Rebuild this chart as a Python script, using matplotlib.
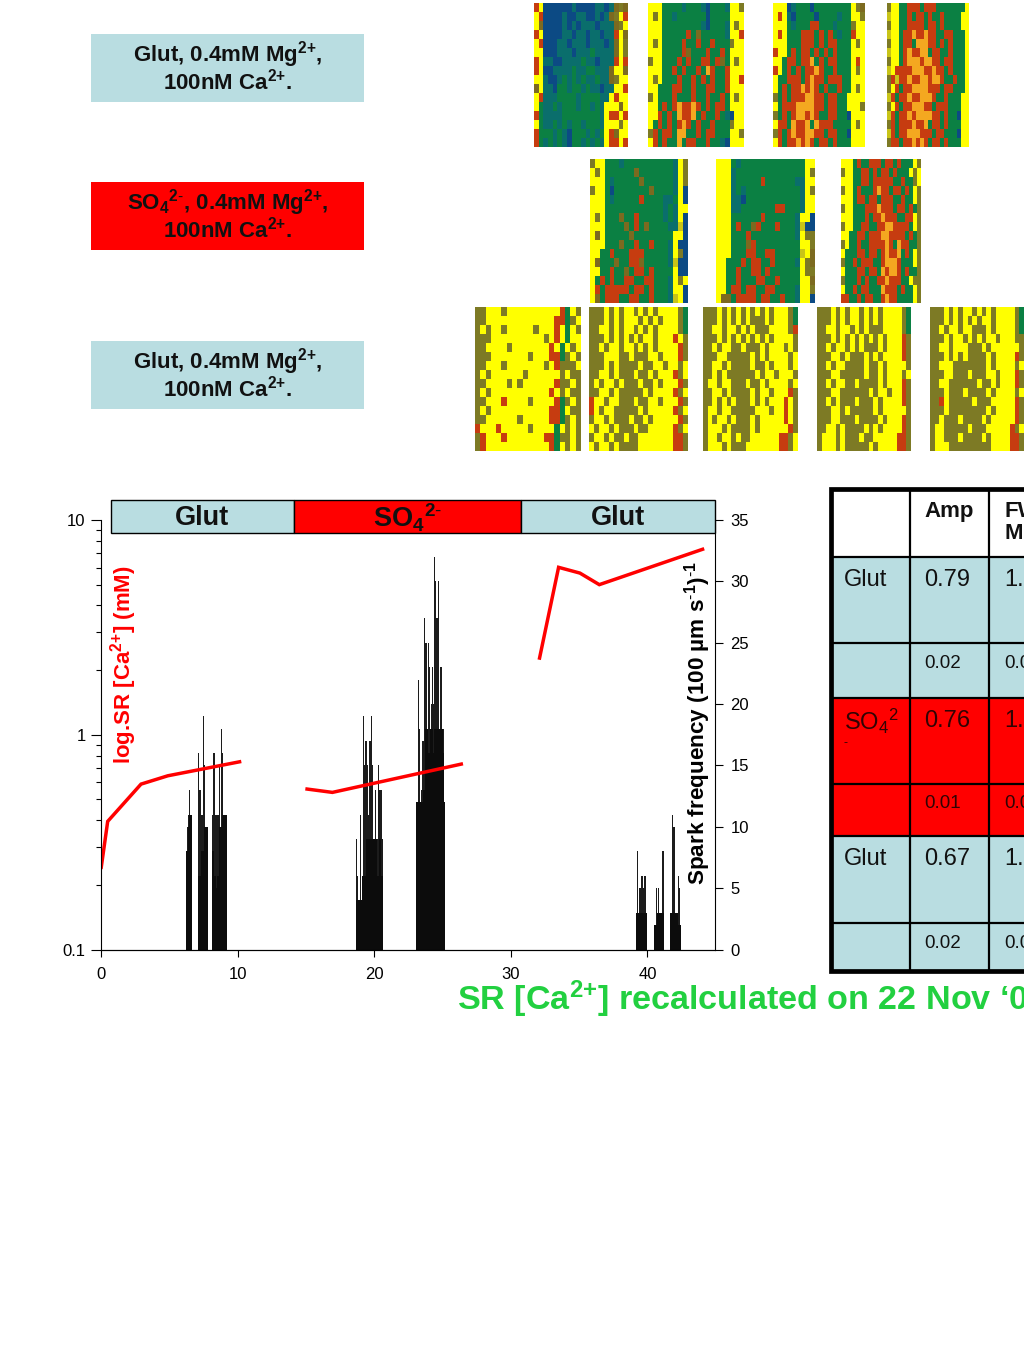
import matplotlib
matplotlib.use('Agg')
import matplotlib.pyplot as plt
from matplotlib.colors import to_rgb
from matplotlib.patches import Rectangle
from matplotlib.ticker import FixedLocator, FixedFormatter, NullFormatter

plt.rcParams['font.family'] = ['Liberation Sans', 'DejaVu Sans']
plt.rcParams['mathtext.fontset'] = 'custom'
plt.rcParams['mathtext.rm'] = 'Liberation Sans'
plt.rcParams['mathtext.bf'] = 'Liberation Sans:bold'
plt.rcParams['mathtext.default'] = 'bf'

BLUE = '#b9dde1'
RED = '#ff0000'

# spark frequency bars, the peaks
spark_t = [6.3, 6.36, 6.42, 6.5, 6.56, 6.62,
           7.15, 7.25, 7.32, 7.42, 7.53, 7.6, 7.7,
           8.2, 8.27, 8.36, 8.43, 8.5, 8.6, 8.7, 8.8, 8.92, 9.05, 9.12,
           18.68, 18.8, 18.9, 19.0, 19.08, 19.2, 19.3, 19.4, 19.5, 19.6, 19.7, 19.8, 19.9, 20.0, 20.1, 20.2, 20.3, 20.4, 20.5, 20.58,
           23.13, 23.25, 23.32, 23.45, 23.57, 23.7, 23.8, 23.95, 24.05, 24.2, 24.28, 24.35, 24.43, 24.5, 24.6, 24.73, 24.85, 24.95, 25.05, 25.12,
           39.2, 39.3, 39.4, 39.5, 39.6, 39.7, 39.83, 39.9,
           40.55, 40.65, 40.8, 40.9, 41.0, 41.15,
           41.7, 41.85, 41.95, 42.05, 42.15, 42.25, 42.35]
spark_n = [8, 10, 11, 13, 11, 11,
           16, 13, 11, 11, 19, 15, 10,
           11, 16, 11, 5, 11, 11, 15, 18, 16, 11, 11,
           9, 6, 4, 11, 4, 19, 15, 17, 15, 11, 17, 19, 15, 9, 13, 9, 15, 13, 13, 9,
           12, 22, 18, 13, 17, 27, 25, 25, 23, 20, 23, 20, 32, 30, 27, 30, 23, 23, 18, 12,
           3, 8, 5, 5, 6, 5, 6, 3,
           2, 5, 5, 3, 3, 8,
           3, 11, 10, 3, 3, 6, 5]
# the solid lower part of each cluster
base_t = [6.28, 6.4, 6.52, 6.62,
          7.16, 7.28, 7.4, 7.52, 7.64, 7.74,
          8.22, 8.34, 8.46, 8.58, 8.7, 8.82, 8.94, 9.06, 9.16,
          18.72, 18.84, 18.96, 19.08, 19.2, 19.32, 19.44, 19.56, 19.68, 19.8, 19.92, 20.04, 20.16, 20.28, 20.4, 20.52, 20.6,
          23.16, 23.28, 23.4, 23.52, 23.64, 23.76, 23.88, 24.0, 24.12, 24.24, 24.36, 24.48, 24.6, 24.72, 24.84, 24.96, 25.08, 25.14,
          39.22, 39.34, 39.46, 39.58, 39.7, 39.82, 39.9,
          40.56, 40.68, 40.8, 40.92, 41.04, 41.16,
          41.72, 41.84, 41.96, 42.08, 42.2, 42.32, 42.38]
base_n = [8, 10, 11, 11,
          6, 6, 8, 8, 10, 10,
          8, 6, 5, 6, 10, 10, 11, 11, 11,
          4, 4, 4, 4, 6, 6, 9, 9, 9, 9, 9, 9, 9, 6, 9, 6, 6,
          12, 12, 12, 12, 13, 18, 18, 16, 18, 18, 16, 18, 18, 18, 18, 18, 16, 12,
          3, 3, 3, 3, 3, 3, 3,
          2, 2, 3, 3, 3, 3,
          3, 3, 3, 3, 3, 2, 2]

# SR [Ca2+], three runs
ca_t1 = [0, 0.49, 2.93, 4.89, 10.27]
ca_v1 = [0.237, 0.395, 0.589, 0.644, 0.751]
ca_t2 = [14.96, 16.94, 26.5]
ca_v2 = [0.56, 0.539, 0.733]
ca_t3 = [32.08, 33.5, 35.06, 36.48, 44.16]
ca_v3 = [2.235, 6.02, 5.66, 5.0, 7.35]

# table
table_names = ['Glut', '', r'$\mathrm{SO_4{}^2}$', '', 'Glut', '']
table_amp = ['0.79', '0.02', '0.76', '0.01', '0.67', '0.02']
table_fwhm = ['1.0', '0.0', '1.3', '0.0', '1.5', '0.0']
table_fill = [BLUE, BLUE, RED, RED, BLUE, BLUE]

palette = {'y': '#ffff00', 'o': '#7d7a25', 'g': '#0b8043', 't': '#0a6e6c', 'b': '#0c4a84',
           'r': '#c63c10', 'd': '#7c6a20', 'a': '#f4a820', 'm': '#c8c418'}
panel_row1 = [
    ["rybbbbbbtbbbbttbtdod", "yrbbbbtbbttbbtbtdoyr", "ydbbbbtbtbtttbtttdoy", "rybbbbttbttbttbttryd",
     "yrbbbttbtttbtttbtdyo", "yybbbtttbtttgttttdyo", "ryttbbttttgttbtttryr", "rybbttttgttggtttdyyd",
     "yytbbtgtgtgttgttdoyy", "dyttbggtggtgttbttyyr", "yrtttggggtggggttyryy", "ygttgtgggtggtgtyyydy",
     "rgttttggggggggtyrryr", "ygttgtgtggtgggtyyyoy", "rgggtgtbgggtgtgyrdyy", "rgtgtgtbggtgtgtyrryr"],
    ["yyyggggtgggtbgggtyyo", "yoyggtggggggbggggyyy", "yyyggggggggtbgggtyoy", "yyygggggrgdgggggtyyr",
     "yoyggggrggrggrgggoyy", "yyyggggrdgggrggrgyyy", "oyygggrgrggrrgrdgyoy", "yyyggrgrggrgarggryyy",
     "yoygggrggrgrgrggryyr", "yygggrrggrggrrggryyy", "oygggrgggrggrggrgyoy", "yygrgrarrargrgrrgyyy",
     "yyrgrgarragrggrgtbyy", "ygrgrgrargrggrgggoyy", "orgrrgaaggrgrrgggyyo", "yrgrggagrrggrggtbyyy"],
    ["yyybtgggbggggggggyod", "yrytbggggbggggtggyyo", "yyygtgggrrgggtgggoyy", "yrygggrrrgrgrgtggryy",
     "yyygggrrrgrgrrgggyoy", "ryygrgrrgrgrgrgggyyy", "yygrrgrragrgrrgggyry", "rygrgrgrrarggrgggyoy",
     "yggrrrgrarrgrrrggyyy", "ygrgrrarargrggrggyoy", "ogrgrrraarrgrrggyyyy", "ygrrraaaarrgrrggyyyo",
     "ogrgraararggrrggbyyy", "yrrgarragarrrggggyoy", "orgrarraarrgrrggbyyy", "yrgrrarargrrgrgggyyy"],
    ["oyyggrrrgrrrgggggggy", "myyggrgrrgrggrggggyy", "oyyggrrrrgrrgrggggyy", "myygrrarrarrggrrgggy",
     "oyygrrgaaarrgrgrgggy", "myygrarraagrrggrgggy", "oyygraaaraarrgrrgggy", "myrrrraaarrarrgrgggy",
     "ormrrarraaraarggrggy", "oyrgrraaaarrrgrrgggy", "mrgrrarraaarggrgggyy", "oyrgrraaarrgrrrgggyy",
     "mrgrraraaaarrgrggbyy", "orgrrrarragrrgrgggyy", "mrgrraaarrrgrrgggbyy", "orrgrrarargrrgrgggyy"],
]
panel_row2 = [
    ["oyygggtggggggggggtyo", "yoyggggggdgggggggtyo", "yyygtgggggdggggggtyo", "oyygbgggggggdggggtyb",
     "yyygtgggggrggggttgyb", "yyyggggggggggggtgtyy", "yoygggdggrgggggtgtyb", "yyyggggdgrgdggggttmb",
     "ydygggggdggggggggyyb", "yyygggdggrggrgggtybb", "yyggrgggrrrgggggtyob", "ydgggdggrrdgggggtmbb",
     "yyggrggdgrrgrggggybb", "ygrgrggrrggrrgggtyoy", "yrgrrrrrgrrgrgggtyyb", "ydgrrrggrrggrgggtmyb"],
    ["yyygtgggggggggggggyy", "yyytggggggggggggggyo", "yyytgggggrggggggttyy", "yyytgtgggggggggggtyo",
     "yyyttbgggggggggggtyy", "yyyttgggggggrrgggtyy", "yyyggggggrggggggtyyb", "yyygrggdrgggrgggtmbb",
     "yyygggrgggggggggtyoo", "yyygggdrgggggggggyyo", "yyygggrrggrrgggggmyd", "yygggrgrrggrggggtyod",
     "yyggrggrrgrggggggyoo", "yyggrgggrrggrggggyyd", "yygrrgrrggrrggggtyyo", "yddgrrrrgrrggrggtyyb"],
    ["yyygrggrrrgrrgrgggyo", "oyyggrrgrgrrgrgggyoy", "yyyggrrgrrrrrggrggoy", "oyygrgggrarrgrrgrgyo",
     "yyygrrgrrgrrrggrggyo", "oyygggrrrarrrgrrgrgo", "yyygggrgrrarrrggrryo", "oyyggrrggrraarrrrgyo",
     "yyggrrgrrraarrrrgrgo", "oyggrggrrrrargarrggo", "ygggrrgrrgrarragrgyo", "oggrgrrrggraaargggyo",
     "ygggrrgrrgaraargrggo", "ogggrgrggrrarrrggyoo", "yggrgrrgggarrrgrggyo", "rrggrgrrggrarrggggyo"],
]
panel_row3 = [
    ["ooyyyoyyyyyyyyyyrgyo", "ooyyyyyyyyyyyyyrrgoy", "oyoyyoyyyyyoyyyrygyo", "oooyyyyyyyyyyoyrygyy",
     "ooyyyyoyyyyyyyrygyoy", "oooyyyyyyyoyyyrrgoyo", "ooyyyoyyyyyyyoyroooy", "oyoyyyyyyoyyyyyyoyoo",
     "ooyyyyoyoyyyyyyrooyo", "oyoyyyyyyyyyyyryoyoo", "ooyyyryyyyoyyyyrgoyo", "oyoyyyyyyyyyyyrrgyoo",
     "ooyyyyyyoyyyyyrrgoyo", "ryyyryyyyyoyyyygyoyo", "oryyyryyyyyyyrrgooyo", "oryyyyyyyyyyyyrgyoyo"],
    ["oooyoyoyyoyoyoyyyyog", "oooyoyoyyyoyoyoyyyog", "ooyyoyoyyoyoyoyyyyog", "oooyoyoyoyoyyoyyyryo",
     "ooyoyyoyyoyoyoyyyyro", "oooyyyooyoooyyoyyyro", "oooyoyooooyooyyoyyoy", "ooyyoyoooyooyoyyyroy",
     "oyoyyoyoooyooyoyyyro", "ooyyoyoooooyoyyyyroy", "ryyoyyoooyooyyoyyyro", "ryoyyoooooyoyyyyyroy",
     "oyyoyoooyooyoyyyyyro", "yoyyoyoooyooyyyyyroy", "oyyoyooyooyyyyyyyrro", "yoyyoyooooyyyyyyyrro"],
    ["oooyoyoyoyoyoyoyyyog", "oooyoyoyoyoooyoyyyog", "ooyyoyyoyoyoooyyyyor", "oooyoyoyoyoyoyoyyyyo",
     "ooyoyyooyoooyoyyyoyo", "oooyyoooooyoyoyyyyoy", "ooyyoyooooyooyoyyyoy", "ooyoyooooooyoyyoyyyo",
     "oyyoyyoooyooyoyyyyoy", "ooyyoyooooyoyyoyyyro", "ooyoyoyoooyoyoyyyryo", "oyyoyyoooooyyyoyyryo",
     "oyoyyoyoooyoyyyyyryo", "oyyyoyooooyoyyyyyyro", "oyyoyyoyooyyyyyyrroy", "oyyyoyoooyyyyyyyrroy"],
    ["oooyoyoyyoyoyoyyyyog", "oooyoyoyyoyoyoyyyyog", "ooyyoyyoyoyoooyyyyog", "oooyoyoyoyoyoyoyyyro",
     "ooyoyyoyoyoooyoyyyro", "oooyyoyoooyoyoyyyyro", "ooyoyyooooyooyoyyyyo", "oooyyoooooyooyoyyyoy",
     "ooyoyyooyooooyoyyyro", "oooyyooooooyoyyoyyro", "ooyoyoooyoooyoyyyyro", "oooyyoyoooooyoyyyyyo",
     "oooyyoooyooooyoyyyro", "ooyyoyooooyoyoyyyyro", "oyyyoyoooyooyyyyyrro", "oyyyoyoooooyoyyyyrro"],
    ["oooyoyoyyoyoyoyyyyog", "oooyoyoyoyoyyoyyyyog", "ooyoyyoyyoooyoyyyyog", "oooyoyyoyoyoyyoyyyoo",
     "ooyyoyyyoooyoyyyyyyo", "oooyoyoyooooyoyyyyro", "ooyyyoooooooyoyyyyoy", "oooyyoooyoooyyoyyyro",
     "ooyyooooooyooyoyyyro", "oooyoooyooooyoyyyyoy", "ooryoooooyoooyyyyyro", "oooyooooooooyoyyyyro",
     "ooyoooyooooyoyyyyyro", "oyyoooooyoooyyyyyroy", "oyyoooyooooyoyyyyrro", "oyyyoooooooooyyyyrro"],
]
row1_x = [(534, 628), (648, 744), (773, 865), (887, 969)]
row2_x = [(590, 688), (716, 815), (841, 921)]
row3_x = [(475, 581), (589, 688), (703, 798), (817, 911), (930, 1024)]

fig = plt.figure(figsize=(10.24, 13.65), dpi=100, facecolor='white')
W, H = 1024, 1365

# chart
ax = fig.add_axes([101 / W, 1 - 949.5 / H, (715 - 101) / W, (949.5 - 520) / H])
ax.set_yscale('log')
ax.set_xlim(0, 44.95)
ax.set_ylim(0.1, 10)
ax.patch.set_visible(False)
for t, v in [(ca_t1, ca_v1), (ca_t2, ca_v2), (ca_t3, ca_v3)]:
    ax.plot(t, v, color=RED, lw=2.5, solid_capstyle='butt', solid_joinstyle='miter')
ax.set_xticks([0, 10, 20, 30, 40])
ax.yaxis.set_major_locator(FixedLocator([0.1, 1, 10]))
ax.yaxis.set_major_formatter(FixedFormatter(['0.1', '1', '10']))
ax.yaxis.set_minor_formatter(NullFormatter())
ax.tick_params(axis='x', which='major', labelsize=12, length=5, width=0.8, pad=7.5)
ax.tick_params(axis='y', which='major', labelsize=12, length=7, width=0.8, pad=4)
ax.tick_params(axis='y', which='minor', length=3.5, width=0.8)
ax.spines['top'].set_visible(False)
ax.spines['right'].set_visible(False)

ax2 = ax.twinx()
ax2.set_ylim(0, 35)
ax.set_zorder(3)
ax2.set_zorder(1)
ax2.bar(spark_t, spark_n, width=0.09, color='#1c1c1c', linewidth=0)
ax2.bar(base_t, base_n, width=0.13, color='#0c0c0c', linewidth=0)
ax2.set_yticks([0, 5, 10, 15, 20, 25, 30, 35])
ax2.tick_params(axis='y', labelsize=12, length=6, width=0.8, pad=5)
ax2.spines['top'].set_visible(False)
ax2.spines['left'].set_visible(False)
ax2.spines['right'].set_linewidth(0.8)

# everything else is laid out in picture pixels
pix = fig.add_axes([0, 0, 1, 1], zorder=5)
pix.patch.set_visible(False)
pix.axis('off')

for rows, xs, y0, y1 in [(panel_row1, row1_x, 3, 147),
                         (panel_row2, row2_x, 159, 303),
                         (panel_row3, row3_x, 307, 451)]:
    for grid, (x0, x1) in zip(rows, xs):
        cells = [[to_rgb(palette[c]) for c in line] for line in grid]
        pix.imshow(cells, extent=(x0, x1, y1, y0), aspect='auto', interpolation='nearest')

pix.set_xlim(0, W)
pix.set_ylim(H, 0)

# condition boxes
boxes = [(34, BLUE, r'Glut, 0.4mM Mg$^{2{+}}$,'),
         (182, RED, r'SO$_4{}^{2\text{-}}$, 0.4mM Mg$^{2{+}}$,'),
         (341, BLUE, r'Glut, 0.4mM Mg$^{2{+}}$,')]
for y, col, label in boxes:
    pix.add_patch(Rectangle((91, y), 273, 68, facecolor=col, edgecolor='none'))
    pix.text(227.5, y + 21, label, ha='center', va='center', fontsize=16, fontweight='bold', color='#111111')
    pix.text(227.5, y + 48, r'100nM Ca$^{2{+}}$.', ha='center', va='center',
             fontsize=16, fontweight='bold', color='#111111')

# solution banner over the chart
banner = [(111, 294, BLUE, 'Glut'),
          (294, 521, RED, r'SO$_4{}^{2\text{-}}$'),
          (521, 715, BLUE, 'Glut')]
for x0, x1, col, label in banner:
    pix.add_patch(Rectangle((x0, 500), x1 - x0, 33, facecolor=col, edgecolor='black', lw=1))
    pix.text((x0 + x1) / 2, 518, label, ha='center', va='center', fontsize=19.5,
             fontweight='bold', color='#111111')

pix.text(124, 665, r'log.SR [Ca$^{2{+}}$] (mM)', rotation=90, ha='center', va='center',
         fontsize=16, fontweight='bold', color=RED)
pix.text(698, 723, r'Spark frequency (100 µm s$^{\text{-}1}$)$^{\text{-}1}$', rotation=90,
         ha='center', va='center', fontsize=16.2, fontweight='bold', color='black')

pix.text(457, 999, 'SR [Ca$^{2{+}}$] recalculated on 22 Nov \u20180', ha='left',
         va='center', fontsize=24.6, fontweight='bold', color='#22d040')

# table
col_x = [831, 910, 989, 1030]
row_y = [489, 557, 643, 698, 784, 836, 923, 971]
for i, col in enumerate(table_fill):
    pix.add_patch(Rectangle((col_x[0], row_y[i + 1]), col_x[3] - col_x[0], row_y[i + 2] - row_y[i + 1],
                            facecolor=col, edgecolor='none'))
for y in row_y[1:-1]:
    pix.plot([col_x[0], col_x[3]], [y, y], color='black', lw=1.6, solid_capstyle='butt')
for x in col_x[1:3]:
    pix.plot([x, x], [row_y[0], row_y[-1]], color='black', lw=1.6, solid_capstyle='butt')
pix.plot([1030, col_x[0], col_x[0], 1030], [row_y[0], row_y[0], row_y[-1], row_y[-1]],
         color='black', lw=3.4, solid_joinstyle='miter')

pix.text(924, 501, 'Amp', ha='left', va='top', fontsize=16, fontweight='bold', color='#111111')
pix.text(1004, 501, 'FWH\nM', ha='left', va='top', fontsize=16, fontweight='bold', color='#111111',
         linespacing=1.05)
for i in range(6):
    big = i % 2 == 0
    size = 17 if big else 13.5
    y = row_y[i + 1] + (23 if big else 20)
    ink = '#111111' if table_fill[i] == BLUE else '#300404'
    for x, label in [(844, table_names[i]), (924, table_amp[i]), (1004, table_fwhm[i])]:
        pix.text(x, y, label, ha='left', va='center', fontsize=size, color=ink)
pix.text(844, 743, '-', ha='left', va='center', fontsize=9, color='#300404')

fig.savefig('out.png', dpi=100)
